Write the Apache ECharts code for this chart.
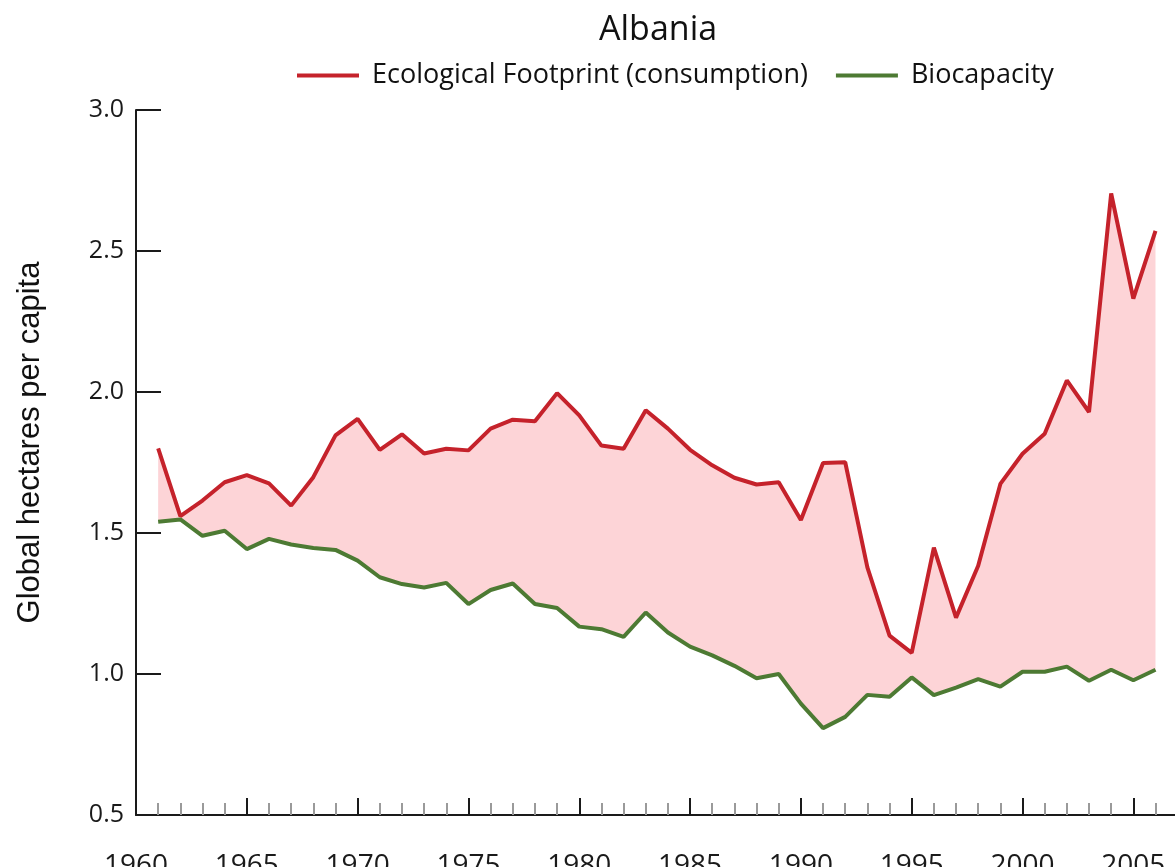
<!DOCTYPE html>
<html>
<head>
<meta charset="utf-8">
<script src="https://cdn.jsdelivr.net/npm/echarts@6/dist/echarts.min.js"></script>
<style>
  html, body { margin: 0; padding: 0; background: #fff; }
  #chart { width: 1175px; height: 867px; }
</style>
</head>
<body>
<div id="chart"></div>
<script>
  // years of data
  const years = [1961, 1962, 1963, 1964, 1965, 1966, 1967, 1968, 1969, 1970,
    1971, 1972, 1973, 1974, 1975, 1976, 1977, 1978, 1979, 1980,
    1981, 1982, 1983, 1984, 1985, 1986, 1987, 1988, 1989, 1990,
    1991, 1992, 1993, 1994, 1995, 1996, 1997, 1998, 1999, 2000,
    2001, 2002, 2003, 2004, 2005, 2006]
  // ecological footprint (consumption), gha per capita
  const footprint = [1.80, 1.56, 1.615, 1.68, 1.705, 1.676, 1.597, 1.698, 1.846, 1.905,
    1.795, 1.85, 1.782, 1.799, 1.793, 1.870, 1.902, 1.896, 1.996, 1.917,
    1.810, 1.799, 1.935, 1.870, 1.795, 1.74, 1.696, 1.672, 1.68, 1.546,
    1.748, 1.751, 1.378, 1.136, 1.075, 1.448, 1.20, 1.384, 1.674, 1.781,
    1.852, 2.041, 1.929, 2.704, 2.331, 2.571]
  // biocapacity
  const biocapacity = [1.54, 1.548, 1.49, 1.508, 1.443, 1.479, 1.459, 1.447, 1.44, 1.402,
    1.343, 1.319, 1.307, 1.323, 1.248, 1.298, 1.321, 1.248, 1.234, 1.168,
    1.159, 1.132, 1.218, 1.147, 1.097, 1.066, 1.029, 0.985, 1.0, 0.895,
    0.808, 0.848, 0.926, 0.919, 0.988, 0.925, 0.952, 0.982, 0.955, 1.008,
    1.008, 1.026, 0.976, 1.015, 0.978, 1.015]
  // x axis labels and ticks
  const yearLabels = [1960, 1965, 1970, 1975, 1980, 1985, 1990, 1995, 2000, 2005]
  const majorTicks = [1965, 1970, 1975, 1980, 1985, 1990, 1995, 2000, 2005]
  const minorTicks = [1961, 1962, 1963, 1964, 1966, 1967, 1968, 1969,
    1971, 1972, 1973, 1974, 1976, 1977, 1978, 1979,
    1981, 1982, 1983, 1984, 1986, 1987, 1988, 1989,
    1991, 1992, 1993, 1994, 1996, 1997, 1998, 1999,
    2001, 2002, 2003, 2004, 2006]

  const redColor = '#c5222b'
  const greenColor = '#4d7a33'
  const fillColor = '#fdd4d7'
  const font = "'Open Sans', sans-serif"

  let chart = echarts.init(document.getElementById('chart'))

  // pink band between footprint and biocapacity, one polygon
  function renderBand(params, api) {
    let top = years.map((y, i) => api.coord([y, footprint[i]]))
    let bottom = years.map((y, i) => api.coord([y, biocapacity[i]])).reverse()
    return {
      type: 'polygon',
      shape: { points: top.concat(bottom) },
      style: { fill: fillColor, stroke: null }
    }
  }

  let option = {
    animation: false,
    title: {
      text: 'Albania',
      left: 594,
      top: 8,
      textStyle: { fontFamily: font, fontSize: 34, fontWeight: 'normal', color: '#111' }
    },
    legend: {
      left: 292,
      top: 57,
      itemWidth: 62,
      itemHeight: 4,
      itemGap: 28,
      icon: 'rect',
      data: ['Ecological Footprint (consumption)', 'Biocapacity'],
      textStyle: { fontFamily: font, fontSize: 27, color: '#111', padding: [0, 0, 0, 8] }
    },
    grid: {
      left: 136,
      right: 0,
      top: 110,
      bottom: 52,
      outerBoundsMode: 'none'
    },
    xAxis: [{
      type: 'value',
      min: 1960,
      max: 2006.88,
      axisLine: { lineStyle: { color: '#1a1a1a', width: 2 } },
      axisTick: {
        show: true,
        inside: true,
        length: 12,
        customValues: minorTicks,
        lineStyle: { color: '#9a9a9a', width: 2 }
      },
      axisLabel: {
        customValues: yearLabels,
        margin: 37,
        fontFamily: font,
        fontSize: 28,
        color: '#1a1a1a',
        formatter: v => String(v)
      },
      splitLine: { show: false }
    }, {
      type: 'value',
      position: 'bottom',
      min: 1960,
      max: 2006.88,
      axisLine: { show: false },
      axisTick: {
        show: true,
        inside: true,
        length: 17,
        customValues: majorTicks,
        lineStyle: { color: '#1a1a1a', width: 2 }
      },
      axisLabel: { show: false },
      splitLine: { show: false }
    }],
    yAxis: {
      type: 'value',
      min: 0.5,
      max: 3.0,
      interval: 0.5,
      name: 'Global hectares per capita',
      nameLocation: 'middle',
      nameGap: 90,
      nameTextStyle: {
        fontFamily: "'Liberation Sans', Arial, sans-serif",
        fontSize: 31,
        color: '#111',
        padding: [0, 0, 0, 40]
      },
      axisLine: { show: true, lineStyle: { color: '#1a1a1a', width: 2 } },
      axisTick: { show: true, inside: true, length: 25, lineStyle: { color: '#1a1a1a', width: 2 } },
      axisLabel: {
        margin: 12,
        fontFamily: font,
        fontSize: 25,
        color: '#1a1a1a',
        formatter: v => v.toFixed(1)
      },
      splitLine: { show: false }
    },
    series: [{
      name: 'band',
      type: 'custom',
      renderItem: renderBand,
      data: [[years[0], footprint[0]]],
      silent: true,
      z: 1
    }, {
      name: 'Ecological Footprint (consumption)',
      type: 'line',
      data: years.map((y, i) => [y, footprint[i]]),
      symbol: 'none',
      color: redColor,
      lineStyle: { color: redColor, width: 4 },
      z: 3
    }, {
      name: 'Biocapacity',
      type: 'line',
      data: years.map((y, i) => [y, biocapacity[i]]),
      symbol: 'none',
      color: greenColor,
      lineStyle: { color: greenColor, width: 4 },
      z: 3
    }]
  }
  chart.setOption(option)
</script>
</body>
</html>
